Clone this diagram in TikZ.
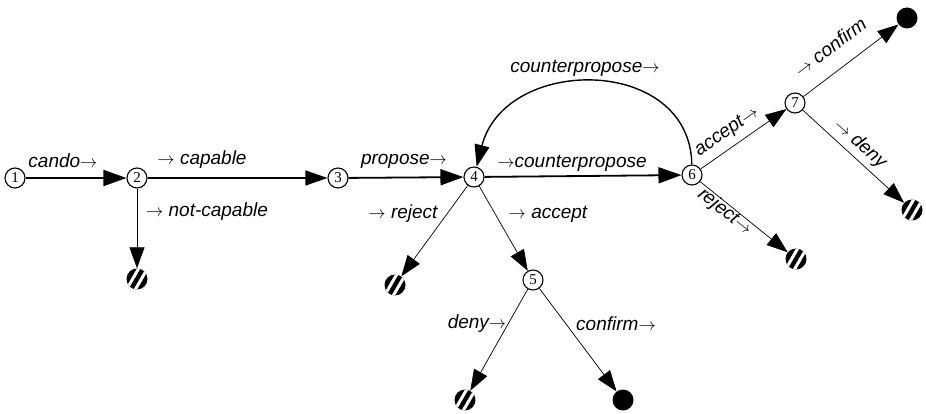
\documentclass[tikz,border=0pt]{standalone}
\usepackage{fontspec}
\setmainfont{Liberation Sans}
\newfontfamily\numfont{Liberation Serif}
\usetikzlibrary{arrows.meta}
\begin{document}
\begin{tikzpicture}[x=1pt,y=-1pt,
  state/.style={circle,draw,line width=1.1pt,minimum size=20pt,inner sep=0pt,
    font=\numfont\fontsize{15}{15}\selectfont},
  term/.style={circle,fill=black,minimum size=21pt,inner sep=0pt},
  fail/.style={term,path picture={
      \draw[white,line width=3pt]
        ([shift={(30:3.8)}]path picture bounding box.center) ++(-60:15) -- ++(120:30)
        ([shift={(210:3.8)}]path picture bounding box.center) ++(-60:15) -- ++(120:30);}},
  lab/.style={font=\fontsize{19}{21}\selectfont\itshape,inner sep=0pt},
  bigedge/.style={line width=1.8pt,-{Triangle[length=23pt,width=16pt]}},
  midedge/.style={line width=1.4pt,-{Triangle[length=22pt,width=15pt]}},
  thinedge/.style={line width=0.7pt,-{Triangle[length=21pt,width=15pt]}},
]
\useasboundingbox (0,0) rectangle (926,414);
% states
\node[state] (n1) at (15,178) {1};
\node[state] (n2) at (137,178) {2};
\node[state] (n3) at (338,178) {3};
\node[state] (n4) at (474,177) {4};
\node[state] (n5) at (533,280) {5};
\node[state] (n6) at (692,175) {6};
\node[state] (n7) at (795,103) {7};
% terminals
\node[fail] (t2) at (137,279) {};
\node[fail] (t4r) at (395,285) {};
\node[fail] (t5d) at (465,400) {};
\node[term] (t5c) at (623,400) {};
\node[fail] (t6r) at (796,259) {};
\node[fail] (t7d) at (912,210) {};
\node[term] (t7c) at (907,18) {};
% edges
\draw[bigedge] (n1) -- (n2);
\draw[midedge] (n2) -- (n3);
\draw[bigedge] (n3) -- (n4);
\draw[bigedge] (n4) -- (n6);
\draw[midedge] (n6) .. controls (690,55) and (505,55) .. (n4);
\draw[thinedge] (n2) -- (t2);
\draw[thinedge] (n4) -- (t4r);
\draw[thinedge] (n4) -- (n5);
\draw[thinedge] (n5) -- (t5d);
\draw[thinedge] (n5) -- (t5c);
\draw[thinedge] (n6) -- (n7);
\draw[thinedge] (n6) -- (t6r);
\draw[thinedge] (n7) -- (t7c);
\draw[thinedge] (n7) -- (t7d);
% labels
\node[lab] (l12) at (63,161) {cando$\rightarrow$};
\node[lab] (l23) at (202,160) {$\rightarrow$ capable};
\node[lab] (l2t) at (207,212) {$\rightarrow$ not-capable};
\node[lab] (l34) at (404,161) {propose$\rightarrow$};
\node[lab] (l46) at (572,163) {$\rightarrow$counterpropose};
\node[lab] (l64) at (585,68) {counterpropose$\rightarrow$};
\node[lab] (l4r) at (403,214) {$\rightarrow$ reject};
\node[lab] (l45) at (548,214) {$\rightarrow$ accept};
\node[lab] (l5d) at (477,324) {deny$\rightarrow$};
\node[lab] (l5c) at (616,324) {confirm$\rightarrow$};
\node[lab,rotate=35] (l67) at (727,132) {accept$\rightarrow$};
\node[lab,rotate=-38.5] (l6r) at (725,212) {reject$\rightarrow$};
\node[lab,rotate=37] (l7c) at (830,47) {$\rightarrow$ confirm};
\node[lab,rotate=-42] (l7d) at (860,144) {$\rightarrow$ deny};
\end{tikzpicture}
\end{document}
